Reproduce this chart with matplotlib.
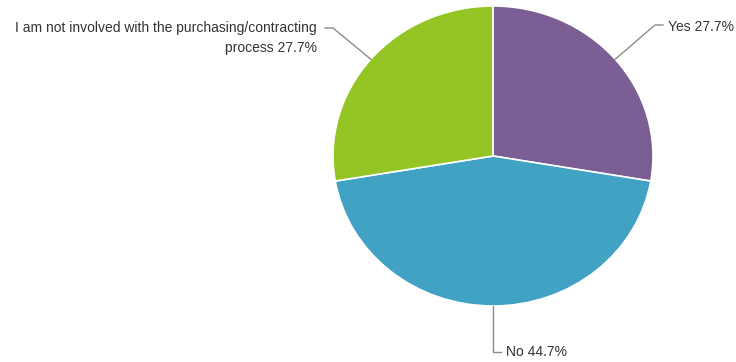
import numpy as np
import matplotlib
matplotlib.use("Agg")
import matplotlib.pyplot as plt

labels = ["Yes", "No", "I am not involved with the purchasing/contracting\nprocess"]
values = [27.7, 44.7, 27.7]
colors = ["#7B5E93", "#41A2C4", "#94C525"]

W, H = 736, 362
plt.rcParams["font.family"] = ["Liberation Sans", "DejaVu Sans"]

fig = plt.figure(figsize=(W / 100, H / 100), dpi=100)
fig.patch.set_facecolor("white")

# pie box in pixel terms (slightly wider than tall)
cx, cy, rx, ry = 493, 156, 160, 150
ax = fig.add_axes([(cx - rx) / W, (H - cy - ry) / H, 2 * rx / W, 2 * ry / H])
wedges, _ = ax.pie(values, colors=colors, startangle=90, counterclock=False,
                   wedgeprops=dict(edgecolor="white", linewidth=1.2))
ax.set_aspect("auto")
ax.set_xlim(-1, 1)
ax.set_ylim(-1, 1)
ax.axis("off")

def px(x, y):
    # figure pixel (origin top-left) -> figure fraction
    return (x / W, 1 - y / H)

line_kw = dict(color="#8c8c8c", linewidth=1.0)
text_kw = dict(color="#333333", fontsize=10)

# leader elbows and label anchors (pixels)
layout = [
    dict(elbow=(655, 25), end=(663, 25), text=(668, 27), ha="left", va="center"),
    dict(elbow=(493, 352), end=(501, 352), text=(506, 352), ha="left", va="center"),
    dict(elbow=(333, 28), end=(325, 28), text=(317, 38), ha="right", va="center"),
]

for w, lab, val, lay in zip(wedges, labels, values, layout):
    ang = np.deg2rad((w.theta1 + w.theta2) / 2)
    ex, ey = cx + rx * np.cos(ang), cy - ry * np.sin(ang)
    xs = [ex, lay["elbow"][0], lay["end"][0]]
    ys = [ey, lay["elbow"][1], lay["end"][1]]
    fx = [x / W for x in xs]
    fy = [1 - y / H for y in ys]
    fig.add_artist(plt.Line2D(fx, fy, transform=fig.transFigure, **line_kw))
    tx, ty = px(*lay["text"])
    fig.text(tx, ty, f"{lab} {val}%", ha=lay["ha"], va=lay["va"],
             multialignment="right", linespacing=1.6, **text_kw)

fig.savefig("out.png", dpi=100, facecolor="white")
